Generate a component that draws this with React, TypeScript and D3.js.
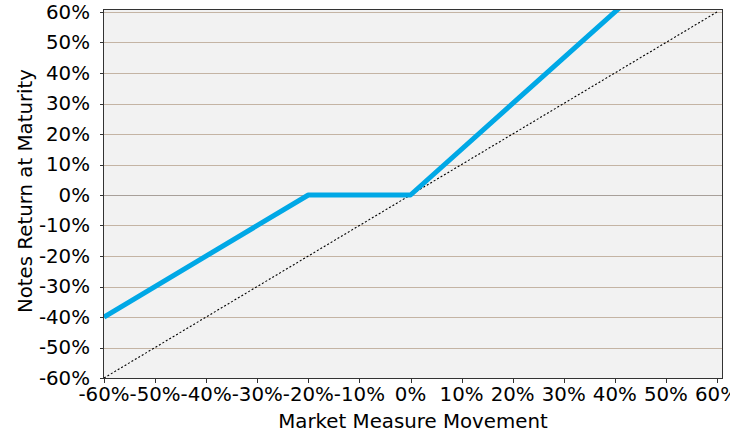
import React from "react";
import * as d3 from "d3";

const marketMovement = [-0.6, -0.2, 0, 0.6];
const notesReturn = [-0.4, 0, 0, 0.9];
const diagonalX = [-0.6, 0.6];
const diagonalY = [-0.6, 0.6];
const tickValues = [-0.6, -0.5, -0.4, -0.3, -0.2, -0.1, 0, 0.1, 0.2, 0.3, 0.4, 0.5, 0.6];
const xTitle = "Market Measure Movement";
const yTitle = "Notes Return at Maturity";

const W = 730;
const H = 440;
const FONT = "'DejaVu Sans', sans-serif";

export default function App() {
  const x = d3.scaleLinear().domain([-0.6, 0.6]).range([104, 717]);
  const y = d3.scaleLinear().domain([-0.6, 0.6]).range([378, 12]);
  const frame = { x: 103.5, y: 9.5, w: 619, h: 369 };
  const fmt = (v: number) => `${Math.round(v * 100)}%`;

  const payoff = d3
    .line<number>()
    .x((_, i) => x(marketMovement[i]))
    .y((d) => y(d))(notesReturn) as string;
  const diag = d3
    .line<number>()
    .x((_, i) => x(diagonalX[i]))
    .y((d) => y(d))(diagonalY) as string;

  return (
    <svg
      width={W}
      height={H}
      style={{ position: "absolute", left: 0, top: 0, background: "#fff" }}
      fontFamily={FONT}
    >
      <defs>
        <clipPath id="plotClip">
          <rect x={frame.x} y={frame.y} width={frame.w} height={frame.h} />
        </clipPath>
      </defs>
      <rect x={frame.x} y={frame.y} width={frame.w} height={frame.h} fill="#f2f2f2" />
      {tickValues.map((t) => (
        <line
          key={"g" + t}
          x1={frame.x}
          x2={frame.x + frame.w}
          y1={Math.round(y(t)) + 0.5}
          y2={Math.round(y(t)) + 0.5}
          stroke={Math.abs(t) < 1e-9 ? "#a8a09a" : "#c4b4a4"}
          strokeWidth={1}
        />
      ))}
      <g clipPath="url(#plotClip)">
        <path d={diag} fill="none" stroke="#000" strokeWidth={1.1} strokeDasharray="2,2" />
        <path d={payoff} fill="none" stroke="#00a8e6" strokeWidth={5} strokeLinejoin="round" />
      </g>
      <rect
        x={frame.x}
        y={frame.y}
        width={frame.w}
        height={frame.h}
        fill="none"
        stroke="#333"
        strokeWidth={1}
      />
      {tickValues.map((t) => (
        <g key={"y" + t}>
          <line x1={100} x2={104} y1={Math.round(y(t)) + 0.5} y2={Math.round(y(t)) + 0.5} stroke="#333" />
          <text x={90} y={y(t)} textAnchor="end" dominantBaseline="central" fontSize={19.8} fill="#000">
            {fmt(t)}
          </text>
        </g>
      ))}
      {tickValues.map((t) => (
        <g key={"x" + t}>
          <line x1={Math.round(x(t)) + 0.5} x2={Math.round(x(t)) + 0.5} y1={379} y2={383} stroke="#333" />
          <text x={x(t)} y={401} textAnchor="middle" fontSize={19.8} fill="#000">
            {fmt(t)}
          </text>
        </g>
      ))}
      <text x={413} y={428} textAnchor="middle" fontSize={19.8} fill="#000">
        {xTitle}
      </text>
      <text
        transform={`translate(32,191) rotate(-90)`}
        textAnchor="middle"
        fontSize={19.8}
        fill="#000"
      >
        {yTitle}
      </text>
    </svg>
  );
}
